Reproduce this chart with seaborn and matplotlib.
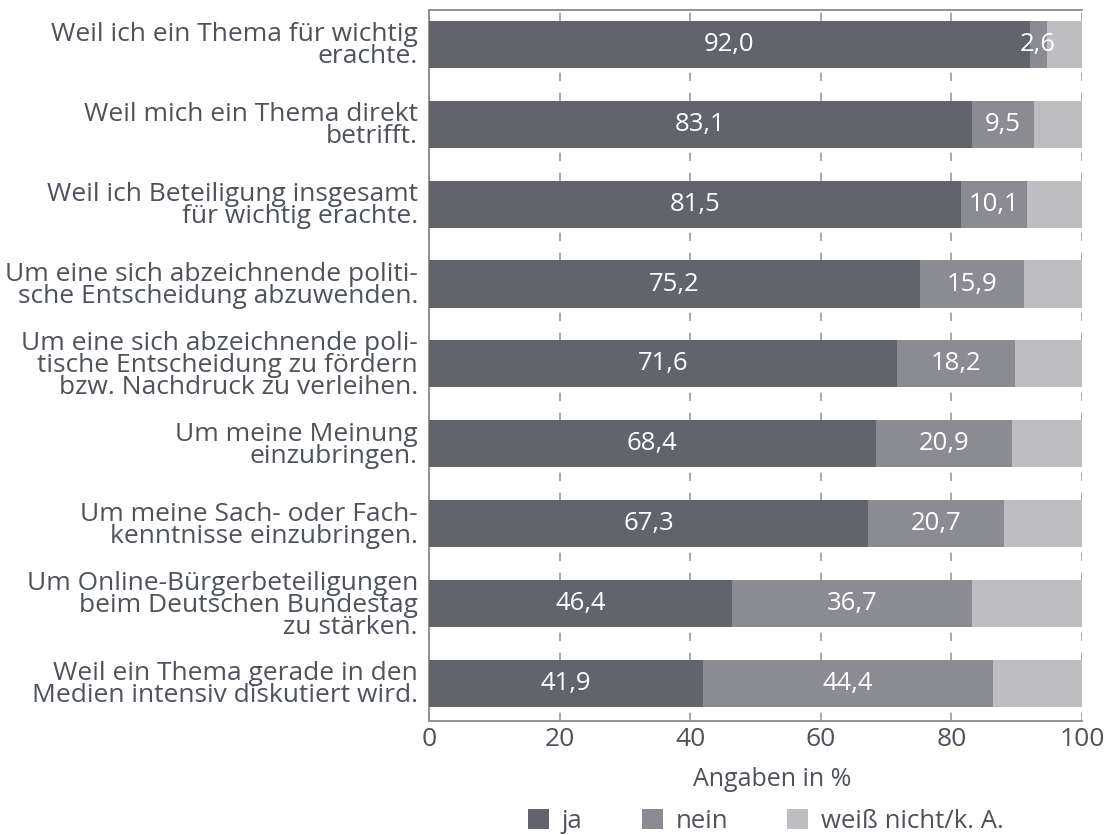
import matplotlib
matplotlib.use("Agg")
import matplotlib.pyplot as plt
import seaborn as sns
import pandas as pd
from matplotlib.patches import Patch

categories = [
    "Weil ich ein Thema für wichtig\nerachte.",
    "Weil mich ein Thema direkt\nbetrifft.",
    "Weil ich Beteiligung insgesamt\nfür wichtig erachte.",
    "Um eine sich abzeichnende politi-\nsche Entscheidung abzuwenden.",
    "Um eine sich abzeichnende poli-\ntische Entscheidung zu fördern\nbzw. Nachdruck zu verleihen.",
    "Um meine Meinung\neinzubringen.",
    "Um meine Sach- oder Fach-\nkenntnisse einzubringen.",
    "Um Online-Bürgerbeteiligungen\nbeim Deutschen Bundestag\nzu stärken.",
    "Weil ein Thema gerade in den\nMedien intensiv diskutiert wird.",
]
ja = [92.0, 83.1, 81.5, 75.2, 71.6, 68.4, 67.3, 46.4, 41.9]
nein = [2.6, 9.5, 10.1, 15.9, 18.2, 20.9, 20.7, 36.7, 44.4]
weiss_nicht = [5.4, 7.4, 8.4, 8.9, 10.2, 10.7, 12.0, 16.9, 13.7]
series_names = ["ja", "nein", "weiß nicht/k. A."]
xticks = [0, 20, 40, 60, 80, 100]

c_ja = "#61646c"
c_nein = "#8b8b93"
c_wn = "#bebdc2"
txt = "#4d525c"
axc = "#8a8a8f"

sns.set_theme(style="white")
plt.rcParams['font.family'] = ['Open Sans', 'DejaVu Sans']

df = pd.DataFrame({"cat": categories, "ja": ja, "nein": nein, "wn": weiss_nicht})
df["c1"] = df["ja"]
df["c2"] = df["ja"] + df["nein"]
df["c3"] = df["ja"] + df["nein"] + df["wn"]

fig = plt.figure(figsize=(11.1, 8.35), dpi=100)
ax = fig.add_axes([429/1110, 1 - 721/835, (1082 - 429)/1110, (721 - 10)/835])

for col, color in [("c3", c_wn), ("c2", c_nein), ("c1", c_ja)]:
    sns.barplot(data=df, x=col, y="cat", color=color, width=0.59, ax=ax,
                orient="h", saturation=1, zorder=3, linewidth=0)

for i, (a, b) in enumerate(zip(ja, nein)):
    ax.text(a / 2, i, f"{a:.1f}".replace(".", ","), ha="center", va="center",
            color="white", fontsize=18.5, zorder=5)
    ax.text(a + b / 2, i, f"{b:.1f}".replace(".", ","), ha="center", va="center",
            color="white", fontsize=18.5, zorder=5)

ax.set_xlim(0, 100)
ax.set_ylim(8.47, -0.43)
ax.set_xticks(xticks)
ax.set_xticklabels([str(t) for t in xticks], fontsize=19, color=txt)
ax.tick_params(axis="x", length=0, pad=4)
ax.tick_params(axis="y", length=0, pad=8)
ax.set_yticks(range(len(categories)))
ax.set_yticklabels(categories, fontsize=19, color=txt, linespacing=0.84)
ax.set_ylabel("")
ax.set_xlabel("Angaben in %", fontsize=18, color=txt)
ax.xaxis.set_label_coords(0.525, -0.064)

ax.xaxis.grid(True, linestyle=(0, (5, 7)), color="#9a9a9f", linewidth=1.2, zorder=0)
ax.yaxis.grid(False)
ax.set_axisbelow(True)
for s in ["left", "bottom", "top"]:
    ax.spines[s].set_visible(True)
    ax.spines[s].set_color(axc)
    ax.spines[s].set_linewidth(1.3)
ax.spines["right"].set_visible(False)

handles = [Patch(facecolor=c, edgecolor="none") for c in (c_ja, c_nein, c_wn)]
fig.legend(handles, series_names, loc="center", bbox_to_anchor=(766/1110, 1 - 821/835),
           ncol=3, frameon=False, fontsize=18.5, labelcolor=txt, handlelength=0.82,
           handleheight=0.82, handletextpad=0.5, columnspacing=2.3)

fig.savefig("out.png", dpi=100)
